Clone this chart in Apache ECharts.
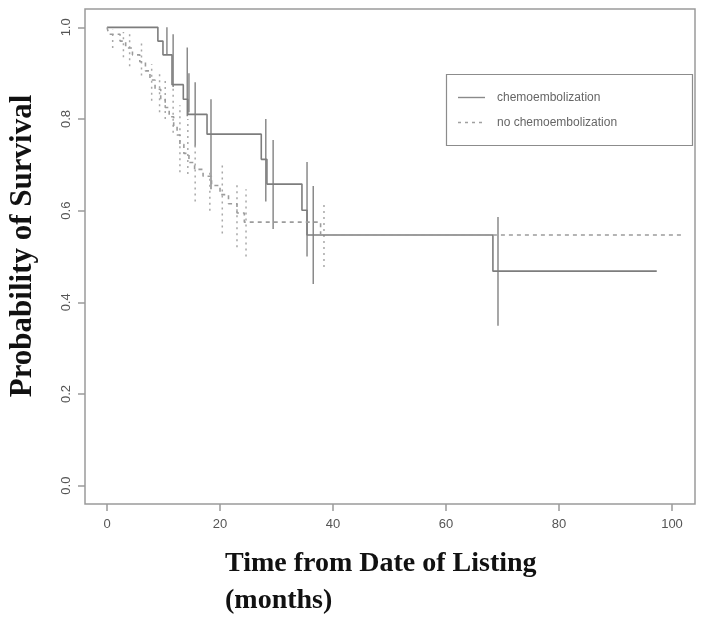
<!DOCTYPE html>
<html>
<head>
<meta charset="utf-8">
<script src="https://cdn.jsdelivr.net/npm/echarts@6/dist/echarts.min.js"></script>
<style>
html,body{margin:0;padding:0;background:#fff;}
#chart{width:704px;height:621px;}
</style>
</head>
<body>
<div id="chart"></div>
<script>
// ---- Data ----
const seriesNames = ['chemoembolization', 'no chemoembolization'];

// Kaplan-Meier steps: value holds from time onward
const chemoTimes = [0, 9.0, 9.9, 11.5, 13.5, 14.3, 17.7, 27.3, 28.3, 34.5, 35.4, 68.3, 97.3];
const chemoSurv  = [1.0, 0.97, 0.94, 0.875, 0.843, 0.81, 0.767, 0.712, 0.658, 0.601, 0.547, 0.468, 0.468];

const noChemoTimes = [0, 0.3, 2.3, 3.3, 4.5, 5.8, 6.8, 7.6, 8.5, 9.5, 10.3, 11.0, 11.8, 12.4, 12.9, 13.6, 14.5, 15.5, 17.0, 18.5, 20.0, 21.5, 23.0, 24.3, 37.8, 102.0];
const noChemoSurv  = [1.0, 0.985, 0.97, 0.955, 0.94, 0.925, 0.905, 0.885, 0.865, 0.845, 0.825, 0.805, 0.785, 0.765, 0.745, 0.725, 0.705, 0.69, 0.675, 0.655, 0.635, 0.615, 0.595, 0.575, 0.547, 0.547];

// Confidence bars (vertical segments)
const chemoCITimes = [10.6, 11.7, 14.2, 14.5, 15.6, 18.4, 28.1, 29.4, 35.4, 36.5, 69.2];
const chemoCILow   = [0.94, 0.87, 0.806, 0.815, 0.74, 0.647, 0.62, 0.56, 0.50, 0.44, 0.349];
const chemoCIHigh  = [1.0, 0.985, 0.956, 0.90, 0.88, 0.843, 0.80, 0.754, 0.706, 0.654, 0.586];

const noChemoCITimes = [1.0, 2.9, 4.0, 6.1, 7.9, 9.3, 10.3, 11.7, 12.9, 14.3, 15.6, 18.2, 20.4, 23.0, 24.6, 38.4];
const noChemoCILow   = [0.955, 0.935, 0.915, 0.895, 0.84, 0.815, 0.80, 0.77, 0.684, 0.68, 0.62, 0.60, 0.55, 0.52, 0.50, 0.477];
const noChemoCIHigh  = [0.995, 0.99, 0.985, 0.965, 0.92, 0.905, 0.885, 0.875, 0.83, 0.80, 0.75, 0.69, 0.70, 0.66, 0.647, 0.62];

const xTicks = [0, 20, 40, 60, 80, 100];
const yTicks = [0, 0.2, 0.4, 0.6, 0.8, 1.0];

const xTitle = 'Time from Date of Listing';
const xTitle2 = '(months)';
const yTitle = 'Probability of Survival';

// ---- Build ----
const zip2 = (a, b) => a.map((v, i) => [v, b[i]]);
const zip3 = (a, b, c) => a.map((v, i) => [v, b[i], c[i]]);

function ciSeries(data, color, dash) {
  return {
    type: 'custom',
    data: data,
    encode: { x: 0, y: [1, 2] },
    silent: true,
    z: 2,
    renderItem: function (params, api) {
      const p1 = api.coord([api.value(0), api.value(1)]);
      const p2 = api.coord([api.value(0), api.value(2)]);
      return {
        type: 'line',
        shape: { x1: p1[0], y1: p1[1], x2: p2[0], y2: p2[1] },
        style: { stroke: color, lineWidth: 1.5, lineDash: dash }
      };
    }
  };
}

const chart = echarts.init(document.getElementById('chart'), null, { renderer: 'canvas' });
const tickFont = { color: '#555', fontSize: 13, fontFamily: 'Liberation Sans, Arial, sans-serif' };

chart.setOption({
  animation: false,
  backgroundColor: '#fff',
  grid: { left: 85, right: 9, top: 9, bottom: 117, show: true, borderColor: '#9a9a9a', borderWidth: 1.5, containLabel: false },
  xAxis: {
    type: 'value', min: -3.9, max: 104.07,
    splitLine: { show: false },
    axisLine: { show: false, onZero: false },
    axisTick: { show: true, inside: false, length: 7, customValues: xTicks, lineStyle: { color: '#9a9a9a', width: 1.5 } },
    axisLabel: Object.assign({ margin: 14, customValues: xTicks, formatter: v => String(Math.round(v)) }, tickFont)
  },
  yAxis: {
    type: 'value', min: -0.04, max: 1.04,
    splitLine: { show: false },
    axisLine: { show: false, onZero: false },
    axisTick: { show: true, inside: false, length: 7, customValues: yTicks, lineStyle: { color: '#9a9a9a', width: 1.5 } },
    axisLabel: Object.assign({ margin: 12, rotate: 90, customValues: yTicks, formatter: v => v.toFixed(1) }, tickFont)
  },
  series: [
    {
      name: seriesNames[0], type: 'line', step: 'end', showSymbol: false, z: 3,
      data: zip2(chemoTimes, chemoSurv),
      lineStyle: { color: '#7d7d7d', width: 1.6, type: 'solid' }
    },
    {
      name: seriesNames[1], type: 'line', step: 'end', showSymbol: false, z: 3,
      data: zip2(noChemoTimes, noChemoSurv),
      lineStyle: { color: '#9c9c9c', width: 1.6, type: [4, 4] }
    },
    ciSeries(zip3(chemoCITimes, chemoCILow, chemoCIHigh), '#8a8a8a', null),
    ciSeries(zip3(noChemoCITimes, noChemoCILow, noChemoCIHigh), '#a8a8a8', [2, 4])
  ],
  graphic: [
    { type: 'rect', shape: { x: 446.5, y: 74.5, width: 246, height: 71 }, style: { fill: '#fff', stroke: '#8c8c8c', lineWidth: 1.2 }, z: 10 },
    { type: 'line', shape: { x1: 458, y1: 97.5, x2: 485, y2: 97.5 }, style: { stroke: '#8a8a8a', lineWidth: 1.4 }, z: 11 },
    { type: 'line', shape: { x1: 458, y1: 122.5, x2: 485, y2: 122.5 }, style: { stroke: '#a0a0a0', lineWidth: 1.4, lineDash: [3, 4] }, z: 11 },
    { type: 'text', x: 497, y: 97.5, style: { text: seriesNames[0], fill: '#666', fontSize: 12, fontFamily: 'Liberation Sans, Arial, sans-serif', verticalAlign: 'middle' }, z: 11 },
    { type: 'text', x: 497, y: 122.5, style: { text: seriesNames[1], fill: '#666', fontSize: 12, fontFamily: 'Liberation Sans, Arial, sans-serif', verticalAlign: 'middle' }, z: 11 },
    { type: 'text', x: 225, y: 564, style: { text: xTitle, fill: '#111', fontSize: 28, fontWeight: 'bold', fontFamily: 'Liberation Serif, Times New Roman, serif', verticalAlign: 'middle' } },
    { type: 'text', x: 225, y: 601, style: { text: xTitle2, fill: '#111', fontSize: 28, fontWeight: 'bold', fontFamily: 'Liberation Serif, Times New Roman, serif', verticalAlign: 'middle' } },
    { type: 'text', x: 23, y: 246, rotation: Math.PI / 2, style: { text: yTitle, fill: '#111', fontSize: 31, fontWeight: 'bold', fontFamily: 'Liberation Serif, Times New Roman, serif', align: 'center', verticalAlign: 'middle' } }
  ]
});
</script>
</body>
</html>
